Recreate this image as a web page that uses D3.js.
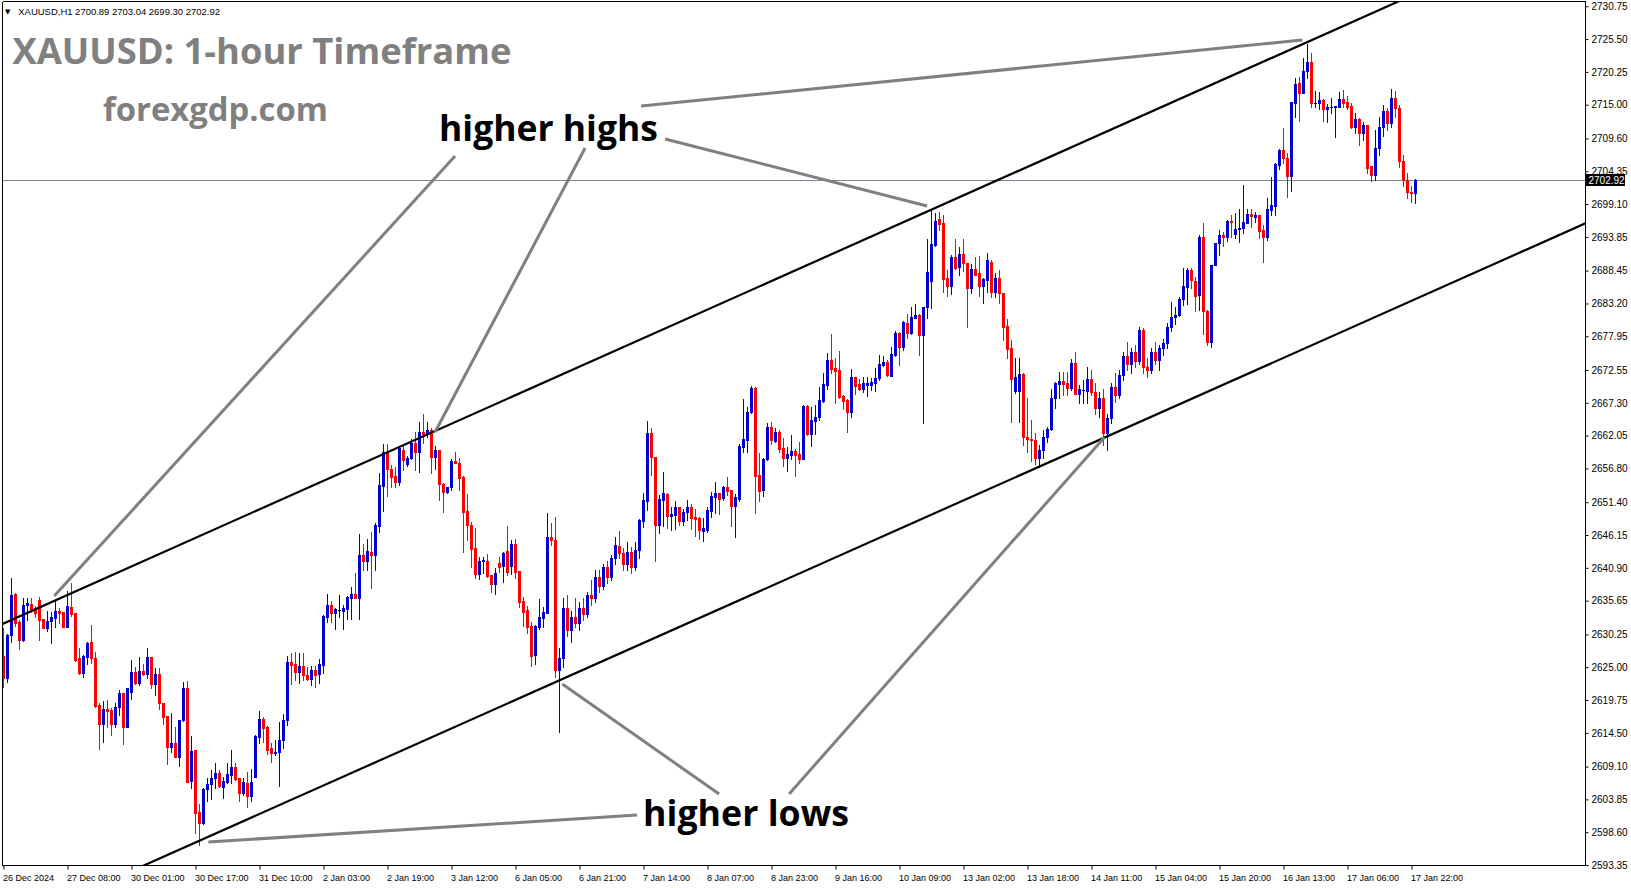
<!DOCTYPE html>
<html><head><meta charset="utf-8">
<script src="https://cdn.jsdelivr.net/npm/d3@7"></script>
<style>html,body{margin:0;padding:0;background:#fff;overflow:hidden}</style>
</head><body>
<svg id="c" width="1631" height="888"></svg>
<script>
// ---- DATA (XAUUSD H1, one entry per bar, 26 Dec 2024 15:00 -> 17 Jan 2025 23:00) ----
const opens = [
2626.8,2623.2,2630.1,2636.7,2632.3,2629.4,2634.9,2635.1,2634.5,2635.8,
2632.7,2631.2,2632.4,2632.9,2634.0,2633.9,2631.5,2634.7,2633.7,2626.4,
2624.1,2626.7,2629.1,2626.5,2618.9,2615.9,2618.3,2618.1,2615.9,2618.6,
2620.8,2615.5,2621.1,2624.2,2622.5,2624.4,2623.9,2626.6,2622.3,2623.9,
2619.3,2617.2,2612.2,2612.8,2610.7,2616.5,2621.7,2606.8,2611.7,2601.9,
2600.0,2605.5,2606.3,2607.2,2608.1,2605.9,2606.7,2607.8,2609.0,2607.3,
2604.8,2606.5,2604.4,2607.5,2613.9,2616.7,2615.5,2612.0,2611.2,2611.5,
2613.3,2616.5,2625.8,2625.5,2624.3,2625.2,2623.75,2623.1,2624.6,2623.9,
2625.35,2633.1,2634.95,2633.7,2634.2,2634.0,2634.35,2636.0,2636.7,2636.0,
2642.95,2642.05,2643.5,2642.95,2647.65,2654.0,2659.2,2656.75,2655.6,2654.7,
2659.75,2657.5,2658.4,2660.9,2659.5,2662.6,2662.3,2662.95,2658.7,2659.75,
2654.3,2653.1,2653.8,2658.0,2657.7,2655.45,2650.05,2647.75,2644.0,2639.9,
2642.0,2642.05,2639.75,2638.3,2641.7,2641.2,2643.6,2641.2,2644.7,2640.4,
2635.65,2634.15,2631.65,2626.95,2631.5,2632.8,2633.7,2645.9,2645.3,2624.5,
2626.5,2634.5,2631.0,2633.0,2632.0,2634.5,2633.5,2636.5,2636.0,2639.5,
2638.0,2641.0,2639.5,2642.5,2644.4,2643.2,2641.5,2643.5,2641.0,2643.8,
2648.45,2651.65,2662.5,2658.7,2647.75,2651.75,2652.7,2649.25,2649.35,2650.7,
2648.45,2649.75,2650.7,2649.1,2648.95,2646.85,2646.95,2650.05,2652.3,2652.9,
2652.05,2653.8,2653.35,2650.8,2651.85,2660.3,2661.35,2665.75,2669.6,2655.75,
2653.35,2658.25,2663.4,2661.25,2662.6,2660.1,2658.5,2659.0,2659.6,2659.1,
2658.3,2666.8,2662.3,2664.45,2665.1,2667.65,2670.15,2674.15,2672.9,2672.55,
2668.4,2667.75,2665.85,2671.4,2670.3,2669.5,2670.15,2670.15,2670.5,2671.2,
2673.35,2673.9,2671.65,2675.0,2678.4,2676.3,2680.1,2678.4,2680.9,2681.35,
2678.15,2682.6,2686.85,2692.55,2696.65,2696.1,2687.2,2686.0,2690.7,2689.0,
2691.1,2689.7,2685.6,2688.7,2688.0,2686.0,2686.95,2689.9,2685.1,2687.2,
2684.9,2679.6,2676.0,2669.2,2669.2,2671.9,2661.9,2661.5,2661.3,2658.5,
2659.8,2661.9,2663.1,2668.0,2670.3,2670.8,2670.5,2669.6,2673.7,2668.7,
2669.35,2669.25,2671.1,2669.0,2666.5,2668.0,2662.5,2664.8,2669.8,2668.5,
2671.8,2674.8,2673.5,2675.5,2674.0,2679.0,2673.0,2672.5,2675.5,2674.2,
2676.0,2676.8,2679.5,2681.1,2681.35,2683.85,2685.9,2688.55,2686.85,2684.55,
2693.9,2682.05,2677.0,2689.35,2692.8,2694.15,2693.9,2696.4,2694.3,2695.05,
2695.2,2696.1,2697.5,2697.05,2697.35,2694.95,2693.8,2698.15,2698.8,2705.35,
2707.75,2706.4,2703.65,2715.35,2718.5,2716.9,2720.45,2721.8,2715.2,2715.2,
2715.75,2714.3,2714.55,2714.7,2714.7,2715.85,2715.5,2714.8,2711.5,2712.65,
2710.4,2711.75,2705.2,2703.75,2708.0,2711.5,2714.0,2712.0,2716.0,2714.5,
2706.0,2703.0,2701.0,2700.89];
const highs = [
2631.2,2630.3,2639.3,2636.9,2632.6,2636.0,2636.0,2636.0,2634.8,2636.2,
2632.7,2634.0,2633.9,2635.8,2634.4,2633.9,2637.2,2638.4,2633.7,2628.0,
2627.0,2629.1,2631.7,2627.4,2619.2,2619.6,2619.8,2618.5,2619.2,2621.35,
2620.8,2621.6,2626.1,2625.1,2626.7,2625.5,2628.1,2626.6,2624.8,2624.9,
2619.3,2617.2,2617.6,2615.5,2616.5,2622.7,2622.8,2614.0,2611.8,2603.1,
2605.6,2607.2,2608.5,2609.7,2608.5,2607.5,2609.7,2611.75,2609.7,2607.3,
2607.2,2608.3,2608.65,2614.15,2618.0,2617.0,2615.6,2612.8,2613.35,2616.3,
2617.5,2626.8,2627.2,2627.5,2627.2,2627.3,2625.1,2625.2,2625.2,2626.25,
2633.35,2636.7,2635.65,2634.4,2636.55,2635.0,2636.4,2637.9,2640.1,2646.3,
2644.7,2645.5,2646.7,2648.1,2656.0,2660.7,2660.7,2657.35,2657.0,2660.2,
2660.4,2658.8,2661.45,2662.7,2664.2,2665.5,2664.3,2663.2,2660.4,2659.75,
2654.4,2653.9,2658.25,2659.5,2658.4,2655.6,2652.7,2648.3,2647.3,2642.7,
2642.7,2643.1,2639.75,2640.8,2642.7,2643.5,2647.6,2645.35,2645.5,2640.4,
2636.3,2634.8,2632.3,2631.75,2635.85,2634.7,2649.6,2648.0,2649.1,2628.0,
2636.0,2636.5,2634.0,2636.0,2635.5,2636.0,2637.0,2639.0,2640.5,2640.5,
2641.5,2642.0,2643.0,2645.8,2646.85,2644.0,2645.1,2644.2,2645.1,2648.65,
2652.95,2664.45,2663.2,2658.7,2652.55,2656.2,2652.8,2650.7,2651.6,2650.7,
2650.3,2651.75,2651.1,2650.3,2649.1,2648.8,2650.7,2653.1,2654.7,2652.9,
2654.0,2655.4,2653.35,2652.7,2660.65,2667.85,2666.7,2670.0,2669.8,2659.2,
2658.4,2664.0,2664.2,2663.2,2662.95,2661.6,2660.3,2662.15,2659.9,2661.1,
2666.95,2666.95,2666.7,2666.95,2669.9,2672.0,2675.2,2678.3,2674.4,2675.6,
2668.55,2667.85,2672.7,2671.5,2671.05,2671.4,2671.4,2671.25,2672.85,2674.95,
2674.85,2674.15,2676.3,2678.8,2678.7,2680.45,2681.5,2682.6,2683.1,2681.5,
2682.7,2693.45,2698.15,2697.6,2697.9,2697.35,2688.55,2690.95,2693.45,2692.3,
2693.45,2689.7,2689.5,2690.7,2690.8,2687.2,2691.3,2690.15,2688.0,2688.55,
2684.9,2680.65,2677.35,2674.4,2674.5,2672.0,2668.0,2664.55,2662.5,2660.5,
2663.0,2663.5,2669.5,2670.65,2672.3,2672.3,2672.3,2674.25,2675.45,2670.15,
2670.95,2673.1,2672.5,2670.5,2669.0,2669.5,2665.5,2670.5,2672.0,2672.5,
2675.5,2677.0,2676.0,2676.5,2679.5,2679.3,2674.5,2676.0,2677.0,2676.5,
2677.5,2680.0,2683.5,2682.7,2684.2,2688.8,2688.95,2688.95,2687.5,2694.15,
2696.1,2682.2,2689.35,2692.9,2694.95,2694.7,2696.55,2697.35,2697.6,2698.3,
2702.15,2698.25,2698.3,2697.9,2697.35,2695.75,2700.0,2703.5,2705.6,2707.85,
2711.2,2707.2,2715.5,2719.2,2719.5,2722.45,2724.7,2723.3,2717.25,2717.1,
2715.85,2715.1,2716.0,2714.8,2717.1,2717.35,2716.4,2715.2,2713.6,2712.8,
2712.3,2711.75,2705.2,2711.0,2713.0,2715.0,2714.5,2717.5,2717.2,2715.0,
2707.0,2704.0,2702.0,2703.04];
const lows = [
2621.9,2622.7,2629.1,2631.6,2627.9,2629.2,2632.5,2633.9,2633.1,2629.4,
2631.2,2630.8,2628.9,2631.5,2632.1,2631.4,2631.4,2633.2,2626.0,2623.9,
2623.5,2625.5,2625.6,2618.7,2611.9,2613.1,2615.5,2614.2,2615.5,2617.4,
2612.7,2615.4,2619.9,2622.3,2622.2,2623.8,2623.2,2621.6,2620.5,2618.3,
2615.9,2609.5,2611.5,2610.6,2609.25,2616.4,2606.6,2605.6,2598.5,2596.6,
2599.9,2603.65,2603.85,2605.6,2605.8,2604.0,2606.5,2606.5,2606.95,2603.65,
2604.55,2602.7,2603.65,2607.4,2612.8,2613.1,2611.1,2609.9,2611.0,2606.0,
2612.0,2615.8,2622.3,2623.0,2622.5,2622.95,2622.95,2622.15,2621.8,2622.5,
2624.0,2632.3,2632.3,2631.1,2633.1,2631.1,2632.7,2632.7,2636.0,2632.7,
2640.55,2640.55,2637.6,2640.55,2646.7,2650.05,2652.4,2653.8,2653.8,2654.15,
2656.55,2657.2,2658.3,2656.55,2656.3,2660.9,2661.9,2656.0,2656.7,2651.75,
2649.9,2652.9,2653.35,2657.6,2653.35,2643.5,2645.35,2641.0,2639.2,2639.1,
2640.1,2639.5,2637.0,2636.7,2640.3,2638.7,2639.75,2639.9,2639.2,2634.6,
2631.6,2630.5,2625.2,2625.5,2631.05,2631.4,2633.6,2644.5,2623.5,2614.7,
2625.0,2630.0,2629.0,2631.5,2631.0,2632.5,2633.0,2635.0,2635.5,2637.0,
2637.5,2638.5,2639.0,2641.5,2642.5,2640.5,2640.5,2640.0,2640.5,2642.5,
2647.5,2650.2,2655.75,2642.0,2646.5,2647.6,2647.2,2646.95,2647.05,2647.75,
2647.75,2648.55,2647.1,2646.05,2645.45,2645.25,2646.7,2649.0,2649.6,2649.5,
2651.75,2652.55,2647.6,2645.9,2651.65,2659.5,2659.5,2665.6,2649.6,2651.65,
2652.45,2658.15,2660.7,2661.1,2659.5,2657.25,2656.45,2658.25,2655.65,2657.6,
2658.25,2662.15,2660.4,2662.3,2664.55,2667.5,2669.45,2672.1,2667.35,2668.0,
2666.3,2662.7,2665.1,2668.7,2669.35,2669.0,2668.45,2669.35,2669.2,2670.95,
2673.2,2671.65,2671.6,2674.85,2673.35,2675.75,2677.6,2678.3,2680.8,2674.95,
2664.1,2680.95,2682.4,2692.4,2694.95,2685.1,2684.4,2684.7,2688.7,2687.75,
2688.45,2679.4,2684.9,2687.75,2684.4,2683.3,2685.1,2684.2,2684.3,2683.3,
2677.35,2674.4,2664.3,2668.8,2664.2,2660.5,2659.5,2658.0,2657.5,2657.0,
2658.5,2661.0,2663.0,2666.4,2668.0,2668.55,2668.55,2669.35,2668.7,2667.35,
2667.35,2667.35,2668.5,2665.5,2665.0,2660.5,2659.7,2664.0,2667.5,2668.0,
2671.0,2672.5,2672.0,2673.0,2673.5,2672.0,2671.5,2672.0,2673.5,2672.5,
2675.0,2676.0,2678.8,2679.9,2681.25,2683.0,2683.1,2685.6,2682.05,2682.15,
2678.3,2676.5,2676.3,2689.35,2690.95,2692.4,2693.25,2693.8,2693.6,2693.0,
2694.4,2696.1,2695.5,2696.3,2693.6,2689.9,2693.35,2697.35,2697.35,2704.65,
2705.7,2700.15,2701.25,2713.0,2712.45,2716.8,2719.2,2714.7,2714.6,2714.25,
2712.4,2712.3,2713.7,2709.9,2714.6,2714.6,2714.25,2711.3,2710.4,2708.55,
2709.35,2704.0,2702.85,2703.0,2707.0,2710.0,2711.0,2711.5,2713.0,2705.0,
2702.0,2700.0,2699.5,2699.30];
const closes = [
2623.2,2630.1,2636.6,2632.1,2629.4,2635.0,2635.2,2634.3,2633.6,2632.6,
2631.3,2632.4,2633.1,2634.0,2633.7,2631.5,2634.8,2633.5,2626.2,2624.1,
2626.8,2628.9,2626.4,2618.8,2615.9,2618.3,2618.0,2615.9,2618.7,2620.8,
2615.5,2621.6,2624.2,2622.5,2624.4,2623.9,2626.6,2622.3,2623.9,2619.2,
2617.1,2612.2,2612.8,2610.7,2616.5,2621.7,2606.7,2611.6,2601.7,2600.0,
2605.5,2606.3,2607.2,2608.0,2606.0,2606.85,2607.9,2609.0,2607.1,2604.8,
2606.7,2604.4,2606.6,2614.0,2616.7,2615.3,2611.75,2611.2,2611.5,2613.3,
2616.5,2625.9,2625.35,2624.3,2625.2,2623.75,2623.1,2624.55,2623.75,2625.5,
2633.2,2634.95,2633.7,2634.25,2634.2,2634.4,2636.2,2636.7,2636.0,2642.95,
2642.05,2643.6,2642.95,2647.75,2654.15,2659.5,2656.65,2655.4,2654.7,2660.0,
2658.15,2658.4,2660.9,2659.5,2662.6,2662.3,2662.95,2658.7,2659.75,2654.3,
2653.1,2653.8,2658.0,2657.7,2655.2,2649.9,2647.75,2643.85,2639.9,2642.05,
2642.1,2639.65,2638.3,2640.1,2641.1,2643.3,2640.3,2644.7,2640.3,2635.5,
2633.9,2631.5,2626.8,2631.6,2633.0,2633.9,2645.9,2645.3,2624.5,2626.5,
2634.5,2631.0,2633.0,2632.0,2634.5,2633.5,2636.5,2636.0,2639.5,2638.0,
2641.0,2639.5,2642.5,2644.55,2643.2,2641.5,2643.5,2641.0,2643.8,2648.5,
2651.75,2662.5,2658.7,2647.75,2651.9,2652.8,2649.25,2649.5,2650.7,2648.45,
2649.9,2650.7,2648.8,2648.7,2646.95,2647.2,2650.15,2652.4,2652.8,2651.85,
2653.9,2653.25,2650.8,2652.3,2660.4,2661.55,2665.85,2669.6,2655.65,2653.25,
2658.3,2663.5,2661.35,2662.7,2659.9,2658.5,2659.05,2659.6,2658.95,2658.3,
2666.8,2662.3,2664.55,2665.1,2667.7,2670.3,2674.15,2672.7,2672.4,2668.2,
2667.65,2665.85,2671.4,2670.05,2669.5,2670.5,2670.4,2670.7,2671.2,2673.5,
2673.9,2671.75,2675.1,2678.4,2676.3,2680.3,2678.4,2681.1,2681.35,2678.15,
2682.7,2688.3,2692.7,2696.45,2695.9,2687.1,2686.0,2690.7,2688.8,2691.1,
2689.6,2685.6,2688.7,2687.75,2686.0,2687.05,2690.15,2685.1,2687.2,2684.8,
2679.5,2675.9,2671.1,2671.4,2671.9,2661.9,2661.5,2661.3,2658.5,2659.8,
2661.9,2663.1,2668.0,2670.5,2670.85,2670.3,2669.6,2673.7,2668.7,2669.45,
2669.4,2671.1,2669.0,2666.5,2668.0,2662.5,2664.8,2669.8,2668.5,2671.8,
2674.8,2673.5,2675.5,2674.0,2679.0,2673.0,2672.5,2675.5,2674.2,2676.0,
2676.8,2679.5,2681.1,2681.35,2683.85,2686.0,2688.55,2686.95,2684.45,2693.9,
2682.05,2677.0,2689.35,2692.8,2694.15,2693.75,2696.45,2696.2,2695.05,2695.2,
2696.2,2697.5,2697.25,2697.35,2694.85,2693.9,2698.25,2698.95,2705.5,2707.75,
2706.4,2703.65,2715.4,2718.3,2716.8,2720.4,2721.8,2715.2,2715.35,2715.75,
2714.25,2714.55,2714.65,2714.8,2715.85,2715.3,2714.6,2711.5,2712.65,2710.4,
2711.75,2704.95,2703.75,2708.0,2711.5,2714.0,2712.0,2716.0,2714.5,2706.0,
2703.0,2701.0,2700.9,2702.92];

const priceTicks = [2730.75,2725.50,2720.25,2715.00,2709.60,2704.35,2699.10,2693.85,2688.45,
  2683.20,2677.95,2672.55,2667.30,2662.05,2656.80,2651.40,2646.15,2640.90,2635.65,2630.25,
  2625.00,2619.75,2614.50,2609.10,2603.85,2598.60,2593.35];
const timeLabels = ["26 Dec 2024","27 Dec 08:00","30 Dec 01:00","30 Dec 17:00","31 Dec 10:00",
  "2 Jan 03:00","2 Jan 19:00","3 Jan 12:00","6 Jan 05:00","6 Jan 21:00","7 Jan 14:00",
  "8 Jan 07:00","8 Jan 23:00","9 Jan 16:00","10 Jan 09:00","13 Jan 02:00","13 Jan 18:00",
  "14 Jan 11:00","15 Jan 04:00","15 Jan 20:00","16 Jan 13:00","17 Jan 06:00","17 Jan 22:00"];
const timeTickBars = [0,16,32,48,64,80,96,112,128,144,160,176,192,208,224,240,256,272,288,304,320,336,352];
const headerText = "XAUUSD,H1  2700.89 2703.04 2699.30 2702.92";
const lastPrice = 2702.92;
// trend channel anchors [bar, price]
const channelUpper = [[0, 2631.99], [340, 2729.03]];
const channelLower = [[55, 2598.95], [330, 2677.35]];
// annotation pointer lines [barFrom, priceFrom, barTo, priceTo]
const highPointers = [[112.9,2706.79,12.68,2636.39],[145.4,2708.07,107.9,2662.63],
  [165.4,2709.51,230.9,2698.79],[159.4,2714.79,324.7,2725.35]];
const lowPointers = [[158.4,2601.35,51.2,2597.03],[178.9,2604.71,139.7,2622.31],
  [196.4,2604.71,275.2,2661.75]];

// ---- LAYOUT ----
const W = 1631, H = 888;
const L = 2.5, T = 1.5, R = 1585.5, B = 865.5;
const x = d3.scaleLinear().domain([0, 353]).range([3.5, 3.5 + 353 * 4]);
const y = d3.scaleLinear().domain([2593.35, 2730.75]).range([865, 6.25]);
const BLUE = "#0000d0", RED = "#ff0000";
const svg = d3.select("#c");
svg.append("rect").attr("width", W).attr("height", H).attr("fill", "#fff");
svg.append("defs").append("clipPath").attr("id", "clip")
  .append("rect").attr("x", 3).attr("y", 2).attr("width", R - 3.5).attr("height", B - 2.5);

// last price line
const ly = Math.round(y(lastPrice)) + 0.5;
svg.append("line").attr("x1", L).attr("x2", R).attr("y1", ly).attr("y2", ly)
  .attr("stroke", "#778899").attr("stroke-width", 1).attr("shape-rendering", "crispEdges");

// candles
const bars = d3.range(opens.length).map(i => ({i, o: opens[i], h: highs[i], l: lows[i], c: closes[i]}));
const col = d => d.c > d.o ? BLUE : (d.c < d.o ? RED : "#000");
const cg = svg.append("g").attr("shape-rendering", "crispEdges").attr("clip-path", "url(#clip)");
cg.selectAll("line").data(bars).join("line")
  .attr("x1", d => x(d.i)).attr("x2", d => x(d.i))
  .attr("y1", d => Math.round(y(d.h))).attr("y2", d => Math.round(y(d.l)) + 1)
  .attr("stroke", col).attr("stroke-width", 1);
cg.selectAll("rect").data(bars).join("rect")
  .attr("x", d => x(d.i) - 1.5).attr("width", 3)
  .attr("y", d => Math.round(y(Math.max(d.o, d.c))))
  .attr("height", d => Math.max(1, Math.round(y(Math.min(d.o, d.c))) - Math.round(y(Math.max(d.o, d.c))) + 1))
  .attr("fill", col);

// frame
const fg = svg.append("g").attr("shape-rendering", "crispEdges").attr("stroke", "#000").attr("stroke-width", 1);
fg.append("line").attr("x1", L).attr("x2", L).attr("y1", T).attr("y2", B);
fg.append("line").attr("x1", L).attr("x2", R).attr("y1", T).attr("y2", T);
fg.append("line").attr("x1", R).attr("x2", R).attr("y1", T).attr("y2", B);
fg.append("line").attr("x1", L).attr("x2", R).attr("y1", B).attr("y2", B);

// channel lines (extended, clipped)
function extLine(p) {
  const [b0, v0] = p[0], [b1, v1] = p[1];
  const s = (v1 - v0) / (b1 - b0);
  return [[-20, v0 + s * (-20 - b0)], [420, v0 + s * (420 - b0)]];
}
const chg = svg.append("g").attr("clip-path", "url(#clip)");
[channelUpper, channelLower].forEach(p => {
  const e = extLine(p);
  chg.append("line").attr("x1", x(e[0][0])).attr("y1", y(e[0][1]))
    .attr("x2", x(e[1][0])).attr("y2", y(e[1][1]))
    .attr("stroke", "#000").attr("stroke-width", 2.2);
});

// gray pointer lines
const pg = svg.append("g");
highPointers.concat(lowPointers).forEach(a => {
  pg.append("line").attr("x1", x(a[0])).attr("y1", y(a[1])).attr("x2", x(a[2])).attr("y2", y(a[3]))
    .attr("stroke", "#808080").attr("stroke-width", 3);
});

// price axis
const ya = d3.axisRight(y).tickValues(priceTicks).tickFormat(d3.format(".2f")).tickSize(3).tickPadding(3);
const yag = svg.append("g").attr("transform", `translate(${R},0)`).call(ya);
yag.select(".domain").remove();
yag.selectAll("text").attr("font-family", "Liberation Sans, Arial, sans-serif").attr("font-size", 10).attr("fill", "#000");
yag.selectAll("line").attr("stroke", "#000");

// last price box
const bx = svg.append("g");
bx.append("rect").attr("x", R + 0.5).attr("y", ly - 6.5).attr("width", 39).attr("height", 12).attr("fill", "#000");
bx.append("text").attr("x", R + 3).attr("y", ly).attr("dy", "0.35em").text(d3.format(".2f")(lastPrice))
  .attr("font-family", "Liberation Sans, Arial, sans-serif").attr("font-size", 10).attr("fill", "#fff");

// time axis
const xa = d3.axisBottom(x).tickValues(timeTickBars).tickFormat((d, i) => timeLabels[i]).tickSize(4).tickPadding(5);
const xag = svg.append("g").attr("transform", `translate(0,${B})`).call(xa);
xag.select(".domain").remove();
xag.selectAll("text").attr("text-anchor", "start").attr("x", -1)
  .attr("font-family", "Liberation Sans, Arial, sans-serif").attr("font-size", 9).attr("fill", "#000");
xag.selectAll("line").attr("stroke", "#000");

// texts
function fitText(sel, w) {
  const len = sel.node().getComputedTextLength();
  const fs = parseFloat(sel.attr("font-size"));
  sel.attr("font-size", fs * w / len);
  return sel;
}
svg.append("text").attr("x", 5).attr("y", 13.5).text("\u25BC")
  .attr("font-family", "DejaVu Sans, sans-serif").attr("font-size", 7).attr("fill", "#000");
fitText(svg.append("text").attr("x", 18.3).attr("y", 14.5).text(headerText)
  .attr("font-family", "Liberation Sans, Arial, sans-serif").attr("font-size", 10).attr("fill", "#000"), 202);

const big = "Open Sans, Noto Sans, sans-serif";
fitText(svg.append("text").attr("x", 12.5).attr("y", 63.5).text("XAUUSD: 1-hour Timeframe")
  .attr("font-family", big).attr("font-weight", 700).attr("font-size", 40).attr("fill", "#808080"), 499);
fitText(svg.append("text").attr("x", 103).attr("y", 121).text("forexgdp.com")
  .attr("font-family", big).attr("font-weight", 700).attr("font-size", 30).attr("fill", "#808080"), 225);
fitText(svg.append("text").attr("x", 439).attr("y", 141).text("higher highs")
  .attr("font-family", big).attr("font-weight", 700).attr("font-size", 36).attr("fill", "#000"), 219);
fitText(svg.append("text").attr("x", 643).attr("y", 826).text("higher lows")
  .attr("font-family", big).attr("font-weight", 700).attr("font-size", 36).attr("fill", "#000"), 206);
</script>
</body></html>
